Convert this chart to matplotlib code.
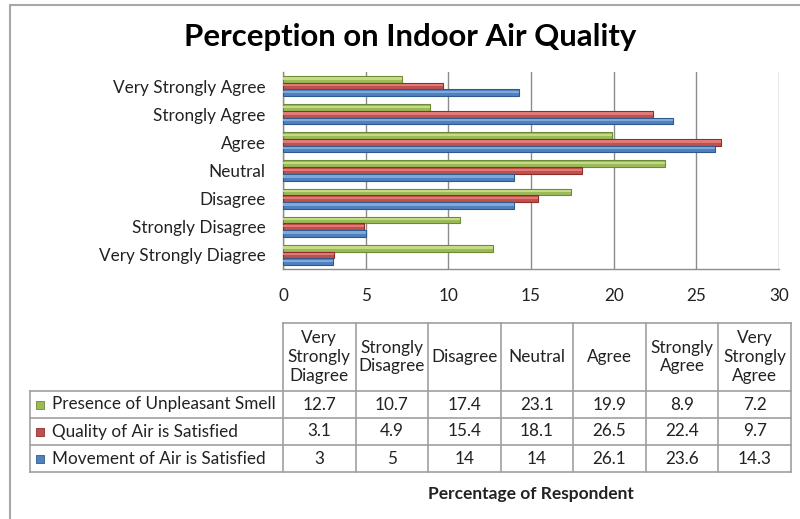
import matplotlib
matplotlib.use("Agg")
import matplotlib.pyplot as plt
from matplotlib.patches import Rectangle
from matplotlib.lines import Line2D
import numpy as np

plt.rcParams['font.family'] = ['Lato', 'DejaVu Sans']

categories = ["Very Strongly Diagree", "Strongly Disagree", "Disagree", "Neutral",
              "Agree", "Strongly Agree", "Very Strongly Agree"]
header_labels = ["Very\nStrongly\nDiagree", "Strongly\nDisagree", "Disagree", "Neutral",
                 "Agree", "Strongly\nAgree", "Very\nStrongly\nAgree"]
series_names = ["Presence of Unpleasant Smell", "Quality of Air is Satisfied",
                "Movement of Air is Satisfied"]
smell = [12.7, 10.7, 17.4, 23.1, 19.9, 8.9, 7.2]
quality = [3.1, 4.9, 15.4, 18.1, 26.5, 22.4, 9.7]
movement = [3, 5, 14, 14, 26.1, 23.6, 14.3]
series_values = [smell, quality, movement]
xticks = [0, 5, 10, 15, 20, 25, 30]

colors = ["#9BBB59", "#C0504D", "#4F81BD"]
light = ["#C3DB85", "#E07A77", "#7FA9DD"]
edges = ["#6E8A35", "#8E2E2B", "#2F5A8E"]

W, H = 800, 519
fig = plt.figure(figsize=(W / 100, H / 100), dpi=100)

def px_axes(x0, y0, x1, y1):
    return fig.add_axes([x0 / W, 1 - y1 / H, (x1 - x0) / W, (y1 - y0) / H])

# outer border
fig.patches.append(Rectangle((10 / W, -0.1), 1.2, 1 - 5 / H + 0.1, transform=fig.transFigure,
                             fill=False, edgecolor="#A8A8A8", linewidth=1.5))

fig.text(410 / W, 1 - 37 / H, "Perception on Indoor Air Quality", ha="center", va="center",
         fontsize=22.4, fontweight="bold", color="black")

TXT = 12.3
# bar chart
ax = px_axes(283, 72, 779, 269)
y = np.arange(len(categories))
bh = 0.237
offsets = [bh, 0, -bh]
for vals, off, c, lc, ec in zip(series_values, offsets, colors, light, edges):
    ax.barh(y + off, vals, height=bh, color=c, edgecolor=ec, linewidth=0.8, zorder=3)
    ax.barh(y + off + bh * 0.12, vals, height=bh * 0.35, color=lc, linewidth=0, zorder=4)
ax.set_xlim(0, 30)
ax.set_ylim(-0.5, len(categories) - 0.5)
ax.set_xticks(xticks)
ax.set_xticklabels([str(t) for t in xticks], fontsize=TXT, color="#222222")
ax.set_yticks(y)
ax.set_yticklabels(categories, fontsize=TXT, color="#222222")
ax.tick_params(axis="both", length=0)
ax.tick_params(axis="x", pad=13.5)
ax.tick_params(axis="y", pad=12.5)
ax.grid(axis="x", color="#8C8C8C", linewidth=1.0, zorder=0)
for s in ["top", "right"]:
    ax.spines[s].set_visible(False)
for s in ["left", "bottom"]:
    ax.spines[s].set_color("#8C8C8C")
    ax.spines[s].set_linewidth(1.0)

# data table
tx0, tx1 = 30, 791
cx0 = 283
ty0, th1, ty1 = 323, 391, 472
row_h = (ty1 - th1) / len(series_names)
tab = px_axes(0, 0, W, H)
tab.set_xlim(0, W)
tab.set_ylim(H, 0)
tab.axis("off")
tab.patch.set_alpha(0)
ncol = len(categories)
col_w = (tx1 - cx0) / ncol
lc_ = "#A0A0A0"
tab.add_line(Line2D([cx0, tx1], [ty0, ty0], color=lc_, lw=1.2))
for r in range(len(series_names) + 1):
    yy = th1 + r * row_h
    tab.add_line(Line2D([tx0, tx1], [yy, yy], color=lc_, lw=1.2))
tab.add_line(Line2D([tx0, tx0], [th1, ty1], color=lc_, lw=1.2))
for c in range(ncol + 1):
    xx = cx0 + c * col_w
    tab.add_line(Line2D([xx, xx], [ty0, ty1], color=lc_, lw=1.2))
for c, lab in enumerate(header_labels):
    tab.text(cx0 + (c + 0.5) * col_w, (ty0 + th1) / 2, lab, ha="center", va="center",
             fontsize=TXT, color="#222222", linespacing=1.2)
for r, (name, vals) in enumerate(zip(series_names, series_values)):
    yc = th1 + (r + 0.5) * row_h
    tab.add_patch(Rectangle((36, yc - 4), 8, 8, facecolor=colors[r], edgecolor=edges[r], lw=0.6))
    tab.text(52, yc, name, ha="left", va="center", fontsize=TXT, color="#222222")
    for c, v in enumerate(vals):
        tab.text(cx0 + (c + 0.5) * col_w, yc, f"{v:g}", ha="center", va="center",
                 fontsize=TXT, color="#222222")

fig.text(531 / W, 1 - 494 / H, "Percentage of Respondent", ha="center", va="center",
         fontsize=12.5, fontweight="bold", color="#222222")

fig.savefig("out.png", dpi=100)
